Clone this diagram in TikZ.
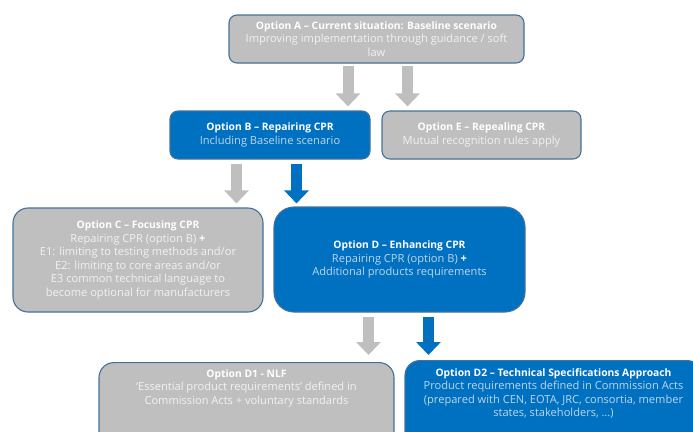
\documentclass[tikz,border=0pt]{standalone}
\usepackage{fontspec}
\setmainfont{Open Sans}
\usetikzlibrary{positioning,arrows.meta}

\definecolor{optgray}{HTML}{BFBFBF}
\definecolor{optblue}{HTML}{0070C0}
\definecolor{optedge}{HTML}{41719C}
\definecolor{subgray}{HTML}{F2F2F2}
\definecolor{subblue}{HTML}{BDD7EE}

\newcommand{\opttitle}[1]{{\color{white}\fontsize{10.3}{13.6}\selectfont\textbf{#1}}}
\newcommand{\plus}{{\color{white}\textbf{+}}}

\tikzset{
  optfont/.style={align=center, font=\fontsize{11.1}{13.6}\selectfont},
  option/.style={optfont, draw=optedge, line width=1.1pt, inner sep=2pt},
  grayopt/.style={option, fill=optgray, text=subgray},
  blueopt/.style={option, fill=optblue, text=subblue},
  optarrow/.style={line width=11pt, -{Triangle[width=24pt,length=13pt]}},
  grayarrow/.style={optarrow, draw=optgray},
  bluearrow/.style={optarrow, draw=optblue}
}

\begin{document}
\begin{tikzpicture}[x=1pt, y=-1pt]
  \useasboundingbox (0,0) rectangle (693,431);

  % first row
  \node[grayopt, rounded corners=8pt, minimum width=295, minimum height=48] (A) at (376.5,39)
    {\opttitle{Option A -- Current situation: Baseline scenario}\\
     Improving implementation through guidance / soft\\ law};

  % second row
  \node[blueopt, rounded corners=8pt, minimum width=200, minimum height=48] (B) at (270,135)
    {\opttitle{Option B -- Repairing CPR}\\ Including Baseline scenario};
  \node[grayopt, rounded corners=8pt, minimum width=199, minimum height=48] (E) at (481.5,135)
    {\opttitle{Option E -- Repealing CPR}\\ Mutual recognition rules apply};

  % third row
  \node[grayopt, rounded corners=15pt, minimum width=250, minimum height=104] (C) at (138,260)
    {\opttitle{Option C -- Focusing CPR}\\
     Repairing CPR (option B) \plus\\
     E1: limiting to testing methods and/or\\
     E2: limiting to core areas and/or\\
     E3 common technical language to\\
     become optional for manufacturers};
  \node[blueopt, rounded corners=20pt, minimum width=251, minimum height=105] (D) at (399.5,259.5)
    {\opttitle{Option D -- Enhancing CPR}\\
     Repairing CPR (option B) \plus\\
     Additional products requirements};

  % last row, cut off by the page
  \node[grayopt, rounded corners=15pt, minimum width=295, minimum height=90, anchor=north] (D1) at (246.5,362) {};
  \node[optfont, text=subgray, anchor=north, inner sep=0pt] (D1text) at ([yshift=-7]D1.north)
    {\opttitle{Option D1 - NLF}\\
     ‘Essential product requirements’ defined in\\
     Commission Acts + voluntary standards};
  \node[blueopt, rounded corners=15pt, minimum width=297, minimum height=90, anchor=north] (D2) at (553.5,360) {};
  \node[optfont, text=subblue, anchor=north, inner sep=0pt] (D2text) at ([yshift=-8]D2.north)
    {\opttitle{Option D2 -- Technical Specifications Approach}\\
     Product requirements defined in Commission Acts\\
     (prepared with CEN, EOTA, JRC, consortia, member\\
     states, stakeholders, …)};

  % arrows
  \draw[grayarrow, shorten <=2pt, shorten >=4pt] ([xshift=-28.5]A.south) -- ([xshift=-28.5]A.south |- B.north);
  \draw[grayarrow, shorten <=2pt, shorten >=4pt] ([xshift=31]A.south) -- ([xshift=31]A.south |- E.north);
  \draw[grayarrow, shorten <=4pt, shorten >=4pt] ([xshift=-33.5]B.south) -- ([xshift=-33.5]B.south |- C.north);
  \draw[bluearrow, shorten <=4pt, shorten >=3pt] ([xshift=26.5]B.south) -- ([xshift=26.5]B.south |- D.north);
  \draw[grayarrow, shorten <=4pt, shorten >=7pt] ([xshift=-31]D.south) -- ([xshift=-31]D.south |- D1.north);
  \draw[bluearrow, shorten <=4pt, shorten >=5pt] ([xshift=29]D.south) -- ([xshift=29]D.south |- D2.north);
\end{tikzpicture}
\end{document}
